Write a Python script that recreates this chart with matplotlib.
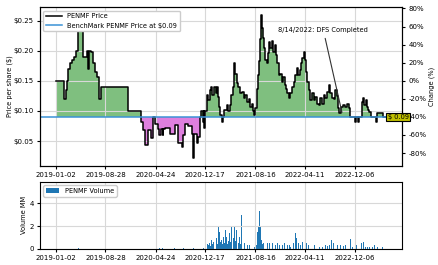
import matplotlib
matplotlib.use("Agg")
import matplotlib.dates as mdates
import matplotlib.pyplot as plt
import numpy as np
import pandas as pd

# price breakpoints (step changes)
price_dates = [
    "2019-01-02", "2019-02-12", "2019-02-18", "2019-02-24", "2019-03-03", "2019-03-12",
    "2019-03-20", "2019-03-30", "2019-04-09", "2019-04-17", "2019-04-25", "2019-05-05",
    "2019-05-13", "2019-05-30", "2019-06-04", "2019-06-11", "2019-06-19", "2019-06-30",
    "2019-07-09", "2019-07-20", "2019-07-29", "2019-08-06", "2019-12-12", "2020-02-14",
    "2020-02-26", "2020-03-06", "2020-03-21", "2020-04-03", "2020-04-14", "2020-04-23",
    "2020-05-08", "2020-05-13", "2020-05-18", "2020-05-28", "2020-06-01", "2020-06-10",
    "2020-07-04", "2020-07-28", "2020-08-11", "2020-08-29", "2020-09-04", "2020-09-14",
    "2020-09-28", "2020-10-16", "2020-10-23", "2020-10-27", "2020-11-09", "2020-11-16",
    "2020-11-23", "2020-11-29", "2020-12-08", "2020-12-11", "2020-12-14", "2020-12-19",
    "2020-12-27", "2021-01-02", "2021-01-12", "2021-01-15", "2021-01-21", "2021-01-31",
    "2021-02-06", "2021-02-13", "2021-02-19", "2021-02-24", "2021-03-01", "2021-03-09",
    "2021-03-15", "2021-03-20", "2021-04-03", "2021-04-08", "2021-04-14", "2021-04-22",
    "2021-05-02", "2021-05-05", "2021-05-12", "2021-05-20", "2021-05-26", "2021-06-05",
    "2021-06-14", "2021-06-20", "2021-06-29", "2021-07-07", "2021-07-14", "2021-07-23",
    "2021-07-31", "2021-08-06", "2021-08-11", "2021-08-16", "2021-08-24", "2021-08-30",
    "2021-09-04", "2021-09-09", "2021-09-13", "2021-09-18", "2021-09-23", "2021-09-28",
    "2021-10-03", "2021-10-11", "2021-10-16", "2021-10-22", "2021-10-27", "2021-11-04",
    "2021-11-10", "2021-11-16", "2021-11-23", "2021-11-29", "2021-12-05", "2021-12-14",
    "2021-12-22", "2021-12-28", "2022-01-03", "2022-01-10", "2022-01-16", "2022-01-22",
    "2022-01-31", "2022-02-08", "2022-02-15", "2022-02-24", "2022-03-04", "2022-03-10",
    "2022-03-16", "2022-03-23", "2022-03-29", "2022-04-04", "2022-04-09", "2022-04-16",
    "2022-04-22", "2022-04-28", "2022-05-07", "2022-05-15", "2022-05-22", "2022-05-31",
    "2022-06-08", "2022-06-15", "2022-06-24", "2022-07-02", "2022-07-09", "2022-07-18",
    "2022-07-26", "2022-08-02", "2022-08-11", "2022-08-19", "2022-08-26", "2022-09-04",
    "2022-09-12", "2022-09-18", "2022-09-23", "2022-10-02", "2022-10-12", "2022-10-22",
    "2022-10-31", "2022-11-10", "2022-11-15", "2022-12-09", "2022-12-13", "2022-12-22",
    "2022-12-25", "2023-01-10", "2023-01-16", "2023-01-21", "2023-01-27", "2023-02-03",
    "2023-02-09", "2023-02-14", "2023-02-19", "2023-03-18", "2023-03-22", "2023-04-08",
    "2023-04-22", "2023-05-05",
]
price_vals = [
    0.15, 0.12, 0.135, 0.15, 0.17, 0.18,
    0.185, 0.19, 0.20, 0.24, 0.25, 0.24,
    0.19, 0.20, 0.17, 0.20, 0.198, 0.18,
    0.165, 0.157, 0.12, 0.14, 0.10, 0.082,
    0.068, 0.043, 0.068, 0.055, 0.09, 0.079,
    0.07, 0.06, 0.07, 0.06, 0.07, 0.071,
    0.062, 0.076, 0.046, 0.04, 0.06, 0.079,
    0.075, 0.062, 0.021, 0.062, 0.046, 0.057,
    0.09, 0.10, 0.082, 0.10, 0.072, 0.10,
    0.126, 0.118, 0.134, 0.14, 0.126, 0.14,
    0.13, 0.14, 0.123, 0.107, 0.093, 0.081,
    0.09, 0.101, 0.11, 0.10, 0.11, 0.126,
    0.14, 0.18, 0.162, 0.146, 0.14, 0.13,
    0.131, 0.121, 0.126, 0.115, 0.12, 0.107,
    0.112, 0.10, 0.093, 0.104, 0.137, 0.16,
    0.182, 0.22, 0.26, 0.237, 0.221, 0.204,
    0.185, 0.179, 0.196, 0.215, 0.204, 0.216,
    0.198, 0.209, 0.193, 0.179, 0.16, 0.162,
    0.148, 0.157, 0.143, 0.137, 0.129, 0.121,
    0.129, 0.14, 0.148, 0.16, 0.171, 0.16,
    0.168, 0.179, 0.187, 0.198, 0.185, 0.165,
    0.148, 0.134, 0.118, 0.129, 0.118, 0.123,
    0.112, 0.11, 0.121, 0.112, 0.126, 0.121,
    0.132, 0.143, 0.129, 0.121, 0.12, 0.135,
    0.125, 0.104, 0.096, 0.107, 0.11, 0.107,
    0.112, 0.104, 0.09, 0.082, 0.09, 0.082,
    0.09, 0.115, 0.121, 0.11, 0.118, 0.107,
    0.101, 0.098, 0.09, 0.082, 0.097, 0.097,
    0.09, 0.09,
]

# daily volume (millions of shares)
vol_dates = [
    "2019-04-20", "2019-06-25", "2020-05-14", "2020-05-28", "2020-07-24", "2020-09-05",
    "2020-10-23", "2020-12-10", "2020-12-20", "2020-12-30", "2021-01-04", "2021-01-08",
    "2021-01-13", "2021-01-18", "2021-01-22", "2021-01-26", "2021-01-30", "2021-02-03",
    "2021-02-08", "2021-02-12", "2021-02-16", "2021-02-20", "2021-02-25", "2021-03-01",
    "2021-03-05", "2021-03-10", "2021-03-16", "2021-03-20", "2021-03-24", "2021-03-28",
    "2021-04-01", "2021-04-05", "2021-04-08", "2021-04-14", "2021-04-18", "2021-04-22",
    "2021-04-26", "2021-04-30", "2021-05-04", "2021-05-08", "2021-05-12", "2021-05-16",
    "2021-05-20", "2021-05-24", "2021-05-28", "2021-06-01", "2021-06-05", "2021-06-09",
    "2021-06-13", "2021-06-17", "2021-06-24", "2021-07-02", "2021-07-10", "2021-07-18",
    "2021-07-26", "2021-08-11", "2021-08-20", "2021-08-24", "2021-08-27", "2021-08-30",
    "2021-09-04", "2021-09-09", "2021-09-15", "2021-09-20", "2021-09-25", "2021-10-01",
    "2021-10-06", "2021-10-14", "2021-10-22", "2021-10-30", "2021-11-07", "2021-11-20",
    "2021-12-01", "2021-12-09", "2021-12-17", "2021-12-25", "2022-01-02", "2022-01-10",
    "2022-01-18", "2022-01-26", "2022-02-02", "2022-02-14", "2022-02-23", "2022-03-02",
    "2022-03-11", "2022-03-22", "2022-03-30", "2022-04-12", "2022-04-18", "2022-04-28",
    "2022-05-09", "2022-05-25", "2022-06-02", "2022-06-18", "2022-07-04", "2022-07-17",
    "2022-07-28", "2022-08-05", "2022-08-17", "2022-08-25", "2022-09-02", "2022-09-14",
    "2022-09-21", "2022-09-29", "2022-10-11", "2022-10-23", "2022-11-08", "2022-11-16",
    "2022-11-24", "2022-12-07", "2022-12-15", "2022-12-26", "2023-01-08", "2023-01-16",
    "2023-01-27", "2023-02-04", "2023-02-15", "2023-02-28", "2023-03-11", "2023-03-24",
    "2023-04-06", "2023-04-17", "2023-04-25",
]
vol_mm = [
    0.03, 0.03, 0.05, 0.05, 0.05, 0.05,
    0.05, 0.08, 0.15, 0.4, 0.3, 0.5,
    0.25, 0.77, 0.4, 0.6, 0.35, 1.65,
    0.5, 0.9, 0.45, 1.9, 1.5, 0.6,
    0.8, 0.4, 1.06, 0.5, 1.65, 0.6,
    1.06, 0.45, 0.7, 1.35, 0.6, 1.9,
    0.8, 1.96, 0.9, 1.9, 0.7, 1.65,
    0.6, 5.6, 0.5, 1.06, 0.4, 2.97,
    0.6, 1.8, 0.47, 0.9, 0.3, 0.3,
    0.16, 0.16, 0.3, 0.77, 1.5, 1.9,
    3.3, 1.9, 0.77, 0.4, 0.47, 0.6,
    1.65, 0.47, 0.47, 0.3, 0.47, 0.3,
    0.47, 0.3, 0.3, 0.3, 0.47, 0.3,
    0.3, 0.3, 0.18, 0.47, 1.35, 0.9,
    0.47, 0.3, 0.6, 1.7, 0.47, 0.3,
    0.18, 0.3, 0.18, 0.18, 0.18, 0.3,
    0.2, 0.3, 0.77, 0.47, 0.47, 0.3,
    0.18, 0.3, 0.2, 0.3, 0.18, 0.83,
    0.18, 2.8, 0.3, 0.18, 0.47, 0.6,
    0.18, 0.18, 0.18, 0.18, 0.3, 0.12,
    0.18, 0.12, 0.12,
]

benchmark = 0.09
tick_dates = ["2019-01-02", "2019-08-28", "2020-04-24", "2020-12-17",
              "2021-08-16", "2022-04-11", "2022-12-06"]

plt.rcParams["font.size"] = 4.8
plt.rcParams["xtick.labelsize"] = 5
plt.rcParams["ytick.labelsize"] = 5
plt.rcParams["xtick.major.size"] = 2.5
plt.rcParams["ytick.major.size"] = 2.5
plt.rcParams["xtick.major.pad"] = 2
plt.rcParams["ytick.major.pad"] = 2

dates = pd.to_datetime(price_dates)
price = np.array(price_vals)
base = price[0]

fig = plt.figure(figsize=(4.39, 2.65), dpi=100)
ax = fig.add_axes([0.0911, 0.3747, 0.8246, 0.5978])
axv = fig.add_axes([0.0911, 0.0615, 0.8246, 0.2517], sharex=ax)

ax.plot(dates, price, color="black", lw=1.1, drawstyle="steps-post", label="PENMF Price")
ax.axhline(benchmark, color="#3a92d6", lw=1.1, label="BenchMark PENMF Price at $0.09")
ax.fill_between(dates, np.maximum(price, benchmark), benchmark, step="post",
                color="green", alpha=0.5, lw=0)
ax.fill_between(dates, np.minimum(price, benchmark), benchmark, step="post",
                color="m", alpha=0.5, lw=0)
ax.set_ylim(0.009, 0.272)
ax.set_yticks([0.05, 0.10, 0.15, 0.20, 0.25])
ax.yaxis.set_major_formatter(plt.FuncFormatter(lambda v, p: "${:.2f}".format(v)))
ax.set_ylabel("Price per share ($)")
ax.yaxis.set_label_coords(-0.075, 0.5)
ax.grid(True, color="#d8d8d8", lw=0.8)
ax.legend(loc="upper left", fontsize=4.8, handlelength=2.4, framealpha=1)
ax.tick_params(axis="x", labelbottom=True)

ax2 = ax.twinx()
lo, hi = ax.get_ylim()
ax2.set_ylim((lo / base - 1) * 100, (hi / base - 1) * 100)
ax2.set_yticks(np.arange(-80, 81, 20))
ax2.yaxis.set_major_formatter(plt.FuncFormatter(lambda v, p: "{:.0f}%".format(v)))
ax2.set_ylabel("Change (%)")
ax2.yaxis.set_label_coords(1.073, 0.5)

ax.annotate("8/14/2022: DFS Completed", xy=(pd.Timestamp("2022-10-08"), 0.093),
            xytext=(pd.Timestamp("2021-12-04"), 0.2345), va="center", fontsize=4.8,
            arrowprops=dict(arrowstyle="-", color="#333333", lw=0.8))
ax2.annotate("$ 0.09", xy=(dates[-1], (price[-1] / base - 1) * 100),
             xytext=(1, 0), textcoords="offset points", va="center", ha="left",
             fontsize=4.8,
             bbox=dict(boxstyle="square,pad=0.2", fc="y", ec="black", lw=0.8),
             annotation_clip=False, zorder=10)

axv.bar(pd.to_datetime(vol_dates), vol_mm, width=3.5, color="#1f77b4", label="PENMF Volume")
axv.set_ylabel("Volume MM")
axv.yaxis.set_label_coords(-0.036, 0.5)
axv.set_yticks([0, 2, 4])
axv.grid(True, color="#d8d8d8", lw=0.8)
axv.legend(loc="upper left", fontsize=4.8, framealpha=1)

axv.set_xticks(pd.to_datetime(tick_dates))
axv.xaxis.set_major_formatter(mdates.DateFormatter("%Y-%m-%d"))
axv.set_xlim(pd.Timestamp("2018-10-18"), pd.Timestamp("2023-07-20"))

fig.savefig("out.png", dpi=100)
